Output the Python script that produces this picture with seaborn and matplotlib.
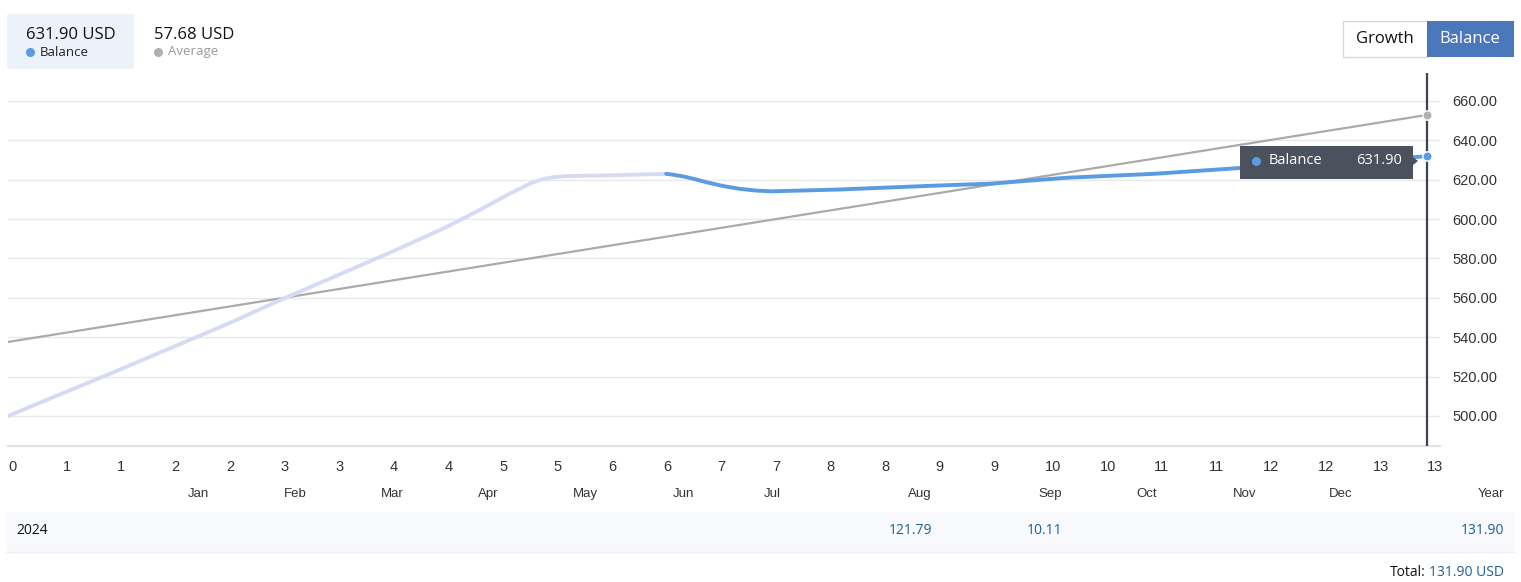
import matplotlib
matplotlib.use('Agg')
import matplotlib.pyplot as plt
import matplotlib.patches as mpatches
import pandas as pd
import seaborn as sns

sns.set_style('white')
plt.rcParams['font.family'] = ['Liberation Sans', 'DejaVu Sans']

W, H = 1521, 582

# balance curve (x in chart units, y in USD)
balance_x = [0, 1, 2, 2.5, 3, 3.5, 4, 4.3, 4.6, 4.8, 4.9, 5.0, 5.1, 5.25, 5.5,
             6.03, 6.1, 6.2, 6.3, 6.4, 6.55, 6.7, 6.85, 7.0, 7.6, 8.5, 9.0,
             9.7, 10.5, 11.3, 12, 13]
balance_y = [500, 523, 546.5, 559, 571, 583, 595.5, 604, 613, 618.5, 620.3,
             621.3, 621.8, 622, 622.2, 623, 622.5, 621.5, 620.2, 618.7, 616.8,
             615.4, 614.5, 614.1, 615, 617, 618, 621, 623, 626, 628.5, 631.9]
split_x = 6.03  # pale part before this, blue after

average_x = [0, 13]
average_y = [537.6, 652.9]

x_ticks = [i * 0.5 for i in range(27)]
x_tick_labels = ['0', '1', '1', '2', '2', '3', '3', '4', '4', '5', '5', '6', '6',
                 '7', '7', '8', '8', '9', '9', '10', '10', '11', '11', '12', '12',
                 '13', '13']
y_ticks = [500, 520, 540, 560, 580, 600, 620, 640, 660]

months = ['Jan', 'Feb', 'Mar', 'Apr', 'May', 'Jun', 'Jul', 'Aug', 'Sep', 'Oct',
          'Nov', 'Dec', 'Year']
row_year = '2024'
row_values = ['', '', '', '', '', '', '', '121.79', '10.11', '', '', '', '131.90']
total_text = '131.90 USD'

balance_now = '631.90'
average_now = '57.68'

# layout (pixels)
month_right = [209, 307, 404, 498, 598, 694, 781, 932, 1062, 1157, 1256, 1353, 1504]

BLUE = '#5a9be3'
PALE = '#d5dbf4'
GREY = '#aaaaaa'
DARK = '#4a525e'
TBLUE = '#1f5f93'


def fx(x):
    return x / W


def fy(y):
    return 1 - y / H


def dot(x, y, color, size=6.5):
    fig.add_artist(plt.Line2D([fx(x)], [fy(y)], marker='o', ms=size,
                   color=color, mec='none', transform=fig.transFigure))


fig = plt.figure(figsize=(W / 100, H / 100), dpi=100)
fig.patch.set_facecolor('white')
ax = fig.add_axes([fx(8), fy(446), 1432 / W, 373 / H])

df = pd.DataFrame({'x': balance_x, 'y': balance_y})
pale = df[df['x'] <= split_x]
solid = df[df['x'] >= split_x]

for v in y_ticks:
    ax.axhline(v, color='#e9e9e9', lw=1, zorder=0)

sns.lineplot(x=average_x, y=average_y, ax=ax, color=GREY, lw=1.6, zorder=2)
sns.lineplot(data=pale, x='x', y='y', ax=ax, color=PALE, lw=2.8,
             zorder=3, sort=False)
sns.lineplot(data=solid, x='x', y='y', ax=ax, color=BLUE, lw=2.8,
             zorder=3, sort=False)

ax.axvline(13, color='#3b4350', lw=1.6, zorder=4)
sns.scatterplot(x=[average_x[-1]], y=[average_y[-1]], ax=ax, color='#b0b0b0',
                s=45, edgecolor='white', linewidth=1, zorder=5)
sns.scatterplot(x=[balance_x[-1]], y=[balance_y[-1]], ax=ax, color=BLUE,
                s=45, edgecolor='white', linewidth=1, zorder=5)

ax.set_xlim(0, 13 * 1432 / 1419)
ax.set_ylim(484.76, 674.2)
ax.set_xticks(x_ticks)
ax.set_xticklabels(x_tick_labels, ha='left')
ax.set_yticks(y_ticks)
ax.set_yticklabels([f'{v:.2f}' for v in y_ticks])
ax.yaxis.tick_right()
ax.tick_params(axis='both', length=0, labelsize=10.5, colors='#333333')
ax.tick_params(axis='x', pad=10)
ax.tick_params(axis='y', pad=9)
for s in ['top', 'left', 'right']:
    ax.spines[s].set_visible(False)
ax.spines['bottom'].set_color('#e2e2e2')
ax.spines['bottom'].set_linewidth(1.6)
ax.set_xlabel('')
ax.set_ylabel('')

hf = ['Open Sans', 'DejaVu Sans']

# header card
fig.add_artist(mpatches.FancyBboxPatch((fx(7), fy(69)), fx(127), 55 / H,
               boxstyle='round,pad=0,rounding_size=0.002',
               transform=fig.transFigure, fc='#edf2fa', ec='none'))
fig.text(fx(26), fy(35), f'{balance_now} USD', fontsize=12, family=hf,
         color='#111111', va='center')
dot(30, 52, BLUE)
fig.text(fx(40), fy(52), 'Balance', fontsize=9.5, family=hf, color='#222222',
         va='center')
fig.text(fx(154), fy(35), f'{average_now} USD', fontsize=12, family=hf,
         color='#111111', va='center')
dot(158, 52, '#b0b0b0')
fig.text(fx(168), fy(52), 'Average', fontsize=9.5, family=hf, color='#999999',
         va='center')

# growth / balance toggle
fig.add_artist(mpatches.Rectangle((fx(1343), fy(57)), fx(84), 36 / H,
               transform=fig.transFigure, fc='white', ec='#d8d8d8', lw=1))
fig.add_artist(mpatches.Rectangle((fx(1427), fy(57)), fx(87), 36 / H,
               transform=fig.transFigure, fc='#4a78bb', ec='none'))
fig.text(fx(1385), fy(39), 'Growth', fontsize=12, family=hf, color='#111111',
         ha='center', va='center')
fig.text(fx(1470), fy(39), 'Balance', fontsize=12, family=hf, color='white',
         ha='center', va='center')

# tooltip
fig.add_artist(mpatches.Rectangle((fx(1240), fy(179)), fx(173), 33 / H,
               transform=fig.transFigure, fc=DARK, ec='none'))
fig.add_artist(mpatches.Polygon([(fx(1413), fy(157)), (fx(1418), fy(161)),
                                 (fx(1413), fy(165))],
               transform=fig.transFigure, fc=DARK, ec='none'))
dot(1256, 161, BLUE)
fig.text(fx(1269), fy(161), 'Balance', fontsize=10.5, family=hf, color='white',
         va='center')
fig.text(fx(1402), fy(161), balance_now, fontsize=10.5, family=hf,
         color='white', va='center', ha='right')

# month header row
for m, r in zip(months, month_right):
    fig.text(fx(r), fy(494), m, fontsize=9.5, color='#333333', ha='right',
             va='center')

# table row
fig.add_artist(mpatches.Rectangle((fx(6), fy(552)), fx(1509), 40 / H,
               transform=fig.transFigure, fc='#f7f9fc', ec='none'))
fig.add_artist(plt.Line2D([fx(6), fx(1515)], [fy(552), fy(552)],
               transform=fig.transFigure, color='#eef0f4', lw=1))
fig.text(fx(16), fy(531), row_year, fontsize=10, family=hf, color='#111111',
         va='center')
for val, r in zip(row_values, month_right):
    if val:
        fig.text(fx(r), fy(531), val, fontsize=10, family=hf, color=TBLUE,
                 ha='right', va='center')

fig.text(fx(1504), fy(573), total_text, fontsize=10, family=hf,
         color=TBLUE, ha='right', va='center')
fig.text(fx(1426), fy(573), 'Total:', fontsize=10, family=hf,
         color='#111111', ha='right', va='center')

fig.savefig('out.png', dpi=100, facecolor='white')
